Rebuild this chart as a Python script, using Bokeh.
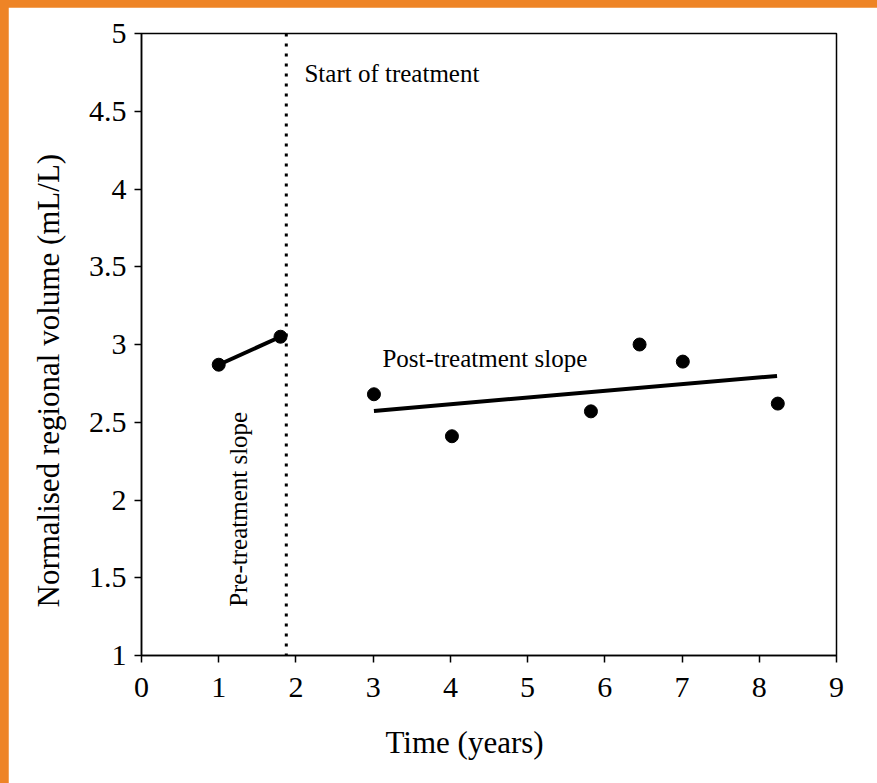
from bokeh.plotting import figure
from bokeh.layouts import column
from bokeh.models import Span, Label, FixedTicker, Title
from bokeh.embed import file_html
from bokeh.resources import INLINE

pre_x = [1.0, 1.8]
pre_y = [2.87, 3.05]
post_x = [3.01, 4.02, 5.82, 6.45, 7.01, 8.24]
post_y = [2.68, 2.41, 2.57, 3.0, 2.89, 2.62]
fit_x = [3.01, 8.23]
fit_y = [2.573, 2.798]
treatment_start = 1.875
x_ticks = [0, 1, 2, 3, 4, 5, 6, 7, 8, 9]
y_ticks = [1, 1.5, 2, 2.5, 3, 3.5, 4, 4.5, 5]

FONT = "Liberation Serif"

p = figure(width=869, height=776, x_range=(0, 9), y_range=(1, 5),
           output_backend="svg", toolbar_location=None,
           min_border_left=132, min_border_right=41, min_border_top=26, min_border_bottom=127)
p.margin = (7, 0, 0, 8)
p.xgrid.visible = False
p.ygrid.visible = False
p.outline_line_color = "black"
p.outline_line_width = 1.5

for ax in (p.xaxis[0], p.yaxis[0]):
    ax.axis_line_width = 1.5
    ax.major_tick_line_width = 1.5
    ax.major_tick_out = 7
    ax.major_tick_in = 0
    ax.minor_tick_line_color = None
    ax.major_label_text_font = FONT
    ax.major_label_text_font_size = "30px"
    ax.major_label_text_color = "black"

p.xaxis.ticker = FixedTicker(ticks=x_ticks)
p.yaxis.ticker = FixedTicker(ticks=y_ticks)
p.xaxis.major_label_standoff = 15
p.yaxis.major_label_standoff = 8

# axis titles (offset from the frame centre as in the original)
p.add_layout(Title(text="Time (years)", align="left", offset=244, standoff=47,
                   text_font=FONT, text_font_size="31px", text_font_style="normal",
                   text_color="black"), "below")
p.add_layout(Title(text="Normalised regional volume (mL/L)", align="left", offset=48,
                   standoff=40, text_font=FONT, text_font_size="31px",
                   text_font_style="normal", text_color="black"), "left")

p.add_layout(Span(location=treatment_start, dimension="height", line_color="black",
                  line_width=3, line_dash="3 7"))

p.line(pre_x, pre_y, line_color="black", line_width=4)
p.line(fit_x, fit_y, line_color="black", line_width=4)
p.scatter(pre_x, pre_y, size=13, color="black")
p.scatter(post_x, post_y, size=13, color="black")

p.add_layout(Label(x=2.11, y=4.74, text="Start of treatment", text_font=FONT,
                   text_font_size="25px", text_baseline="middle", text_color="black"))
p.add_layout(Label(x=3.12, y=2.91, text="Post-treatment slope", text_font=FONT,
                   text_font_size="25px", text_baseline="middle", text_color="black"))
p.add_layout(Label(x=1.25, y=1.94, text="Pre-treatment slope", text_font=FONT,
                   text_font_size="25px", text_baseline="middle", text_align="center",
                   angle=1.5708, text_color="black"))

layout = column(p, styles={"background-color": "#EE8426"})
open("out.html", "w").write(file_html(layout, INLINE))
